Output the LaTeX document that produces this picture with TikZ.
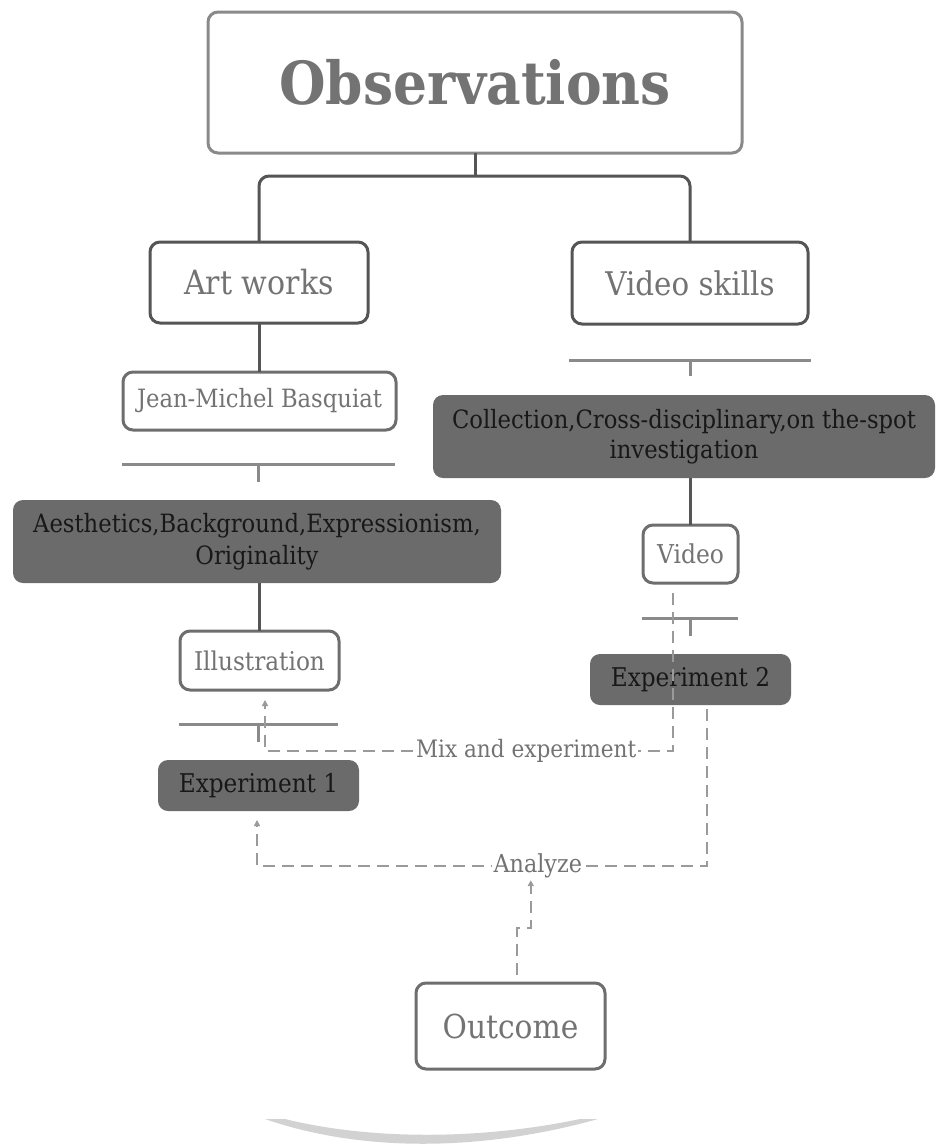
\documentclass[tikz,border=0pt]{standalone}
\usepackage{fontspec}
\setmainfont{DejaVu Serif}[FakeStretch=0.9]
\usetikzlibrary{arrows.meta}
\definecolor{lightline}{HTML}{8A8A8A}
\definecolor{darkline}{HTML}{555555}
\definecolor{midline}{HTML}{6E6E6E}
\definecolor{lighttext}{HTML}{737373}
\definecolor{darkfill}{HTML}{6B6B6B}
\definecolor{darktext}{HTML}{181818}
\definecolor{dashgray}{HTML}{9A9A9A}

\begin{document}
\begin{tikzpicture}[x=0.5pt,y=-0.5pt,
  every node/.style={inner sep=0pt,outer sep=0pt},
  whitebox/.style={draw=midline,line width=1.5pt,rounded corners=5pt,fill=white,text=lighttext},
  darkbox/.style={fill=darkfill,rounded corners=5pt,text=darktext,align=center},
  tree/.style={draw=darkline,line width=1.5pt},
  sepline/.style={draw=lightline,line width=1.5pt},
  dashlink/.style={draw=dashgray,line width=1pt,dash pattern=on 6pt off 3.5pt},
  lbl/.style={fill=white,text=lighttext,inner xsep=1pt},
  tip/.style={-{Triangle[length=3pt,width=3pt]}}]
\useasboundingbox (0,0) rectangle (938,1148);
\node[whitebox,draw=lightline,minimum width=267pt,minimum height=70.5pt,text=lighttext,font=\bfseries\fontsize{29.7}{30}\selectfont] (obs) at (475,82.5) {Observations};
\node[whitebox,draw=darkline,minimum width=109pt,minimum height=40.5pt,font=\fontsize{16.7}{17}\selectfont] (art) at (259,282.5) {Art works};
\node[whitebox,draw=darkline,minimum width=118pt,minimum height=41pt,font=\fontsize{16.3}{17}\selectfont] (skills) at (690,283) {Video skills};
\node[whitebox,minimum width=136.5pt,minimum height=29pt,font=\fontsize{12.6}{14}\selectfont] (jean) at (259.5,401) {Jean-Michel Basquiat};
\node[darkbox,minimum width=244pt,minimum height=41.5pt,font=\fontsize{12.6}{16}\selectfont] (aes) at (257,541.5) {Aesthetics,Background,Expressionism,\\Originality};
\node[whitebox,minimum width=79.5pt,minimum height=29.5pt,font=\fontsize{12.9}{14}\selectfont] (illu) at (259.5,660.5) {Illustration};
\node[darkbox,minimum width=100.5pt,minimum height=25.5pt,font=\fontsize{12.9}{14}\selectfont] (exp1) at (258.5,785.5) {Experiment 1};
\node[darkbox,minimum width=251pt,minimum height=41.5pt,font=\fontsize{12.6}{15}\selectfont] (coll) at (684,436.5) {Collection,Cross-disciplinary,on the-spot\\investigation};
\node[whitebox,minimum width=47.5pt,minimum height=29pt,font=\fontsize{13}{14}\selectfont] (video) at (690.5,554) {Video};
\node[darkbox,minimum width=100.5pt,minimum height=25.5pt,font=\fontsize{12.9}{14}\selectfont] (exp2) at (690.5,679.5) {Experiment 2};
\node[whitebox,minimum width=94.5pt,minimum height=43pt,font=\fontsize{16.5}{17}\selectfont] (out) at (510.5,1026) {Outcome};

\draw[tree] (obs.south) -- ++(0,23);
\draw[tree,rounded corners=5pt] (art.north) -- ++(0,-66) -| (skills.north);
\draw[tree] (art.south) -- (art.south |- jean.north);
\draw[tree] (illu.north |- aes.south) -- (illu.north);
\draw[tree] (video.north |- coll.south) -- (video.north);

\draw[sepline] (122,464) -- (395,464);
\draw[sepline] (258,464) -- (258,482);
\draw[sepline] (569,360) -- (811,360);
\draw[sepline] (690,360) -- (690,376);
\draw[sepline] (179,724) -- (338,724);
\draw[sepline] (258,724) -- (258,742);
\draw[sepline] (642,618) -- (738,618);
\draw[sepline] (690,618) -- (690,636);

\draw[dashlink,tip,shorten <=5pt,shorten >=5pt] ([xshift=-8.75pt]video.south) -- ++(0,168) -| ([xshift=2.75pt]illu.south) node[lbl,pos=0.18,font=\fontsize{12}{14}\selectfont] (mix) {Mix and experiment};
\draw[dashlink,tip,shorten <=2pt,shorten >=4.5pt] ([xshift=8.25pt]exp2.south) -- ++(0,161) -| ([xshift=-0.75pt]exp1.south) node[lbl,pos=0.188,font=\fontsize{12.4}{14}\selectfont] (ana) {Analyze};
\draw[dashlink,tip,shorten <=4pt,shorten >=1pt] ([xshift=3.25pt]out.north) -- ++(0,-55) -| ([xshift=-3.5pt]ana.south);

\fill[gray!35] (265,1119) .. controls (360,1152) and (480,1152) .. (598,1119) -- (580,1119) .. controls (480,1140) and (370,1140) .. (285,1119) -- cycle;
\end{tikzpicture}
\end{document}
